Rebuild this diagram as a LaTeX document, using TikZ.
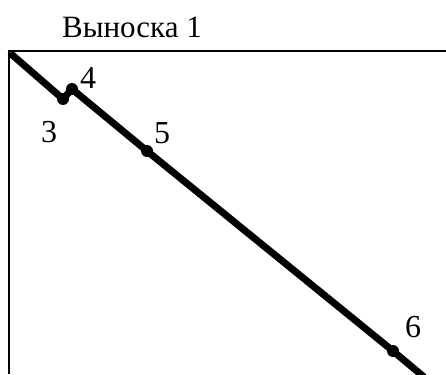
\documentclass[tikz,border=0pt]{standalone}
\usepackage{fontspec}
\setmainfont{Liberation Serif}
\begin{document}
\begin{tikzpicture}[x=1pt,y=-1pt,
  frame/.style={line width=1.4pt},
  wire/.style={line width=7pt,line join=round},
  pt/.style={circle,fill=black,inner sep=0pt,minimum size=12pt},
  lbl/.style={font=\fontsize{32}{32}\selectfont,inner sep=0pt},
  ttl/.style={font=\fontsize{31}{31}\selectfont,inner sep=0pt}]
\useasboundingbox (0,0) rectangle (446,374);
\node[ttl,anchor=base] (title) at (132,38) {Выноска 1};
\coordinate (tl) at (9,51);
\coordinate (tr) at (446,51);
\coordinate (bl) at (9,374);
\draw[frame] (bl) -- (tl) -- (tr);
\coordinate (s) at (10,53);
\node[pt] (p3) at (63,99) {};
\node[pt] (p4) at (72,89) {};
\node[pt] (p5) at (147,151) {};
\node[pt] (p6) at (393,351) {};
\coordinate (e) at (424,377);
\draw[wire] (s) -- (p3.center) -- (p4.center) -- (p5.center) -- (p6.center) -- (e);
\node[lbl] (l3) at (49,132) {3};
\node[lbl] (l4) at (88,78) {4};
\node[lbl] (l5) at (162,133) {5};
\node[lbl] (l6) at (413,327) {6};
\end{tikzpicture}
\end{document}
